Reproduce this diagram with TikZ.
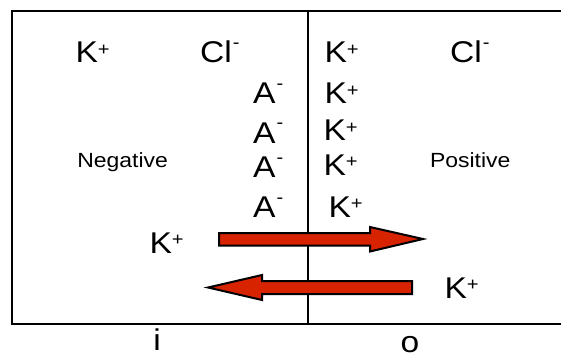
\documentclass[tikz,border=0pt]{standalone}
\usepackage{fontspec}
\setmainfont{Liberation Sans}
\definecolor{pumpred}{RGB}{215,35,0}
% ion labels: stretched Arial-like text with small raised charge signs
\newcommand{\ionplus}[1]{\scalebox{1.12}[1]{\fontsize{30}{30}\selectfont #1\raisebox{7.7pt}{\fontsize{18}{18}\selectfont +}}}
\newcommand{\ionminus}[1]{\scalebox{1.12}[1]{\fontsize{30}{30}\selectfont #1\hspace{1pt}\raisebox{14pt}{\fontsize{18}{18}\selectfont -}}}
\newcommand{\sidelabel}[1]{\scalebox{1.12}[1]{\fontsize{20.5}{20.5}\selectfont #1}}
\newcommand{\compartment}[1]{\scalebox{1.12}[1]{\fontsize{30}{30}\selectfont #1}}
\begin{document}
\begin{tikzpicture}[x=1pt,y=-1pt,
  ion/.style={anchor=base west,inner sep=0pt,outer sep=0pt},
  wall/.style={line width=1.5pt,line cap=rect},
  pumparrow/.style={fill=pumpred,draw=black,line width=2pt,line join=miter}]
\useasboundingbox (0,0) rectangle (561,358);

% cell frame and membrane
\coordinate (tl) at (12,11);
\coordinate (tr) at (561,11);
\coordinate (bl) at (12,324);
\coordinate (br) at (561,324);
\coordinate (mtop) at (308,11);
\coordinate (mbot) at (308,324);
\draw[wall] (tr) -- (tl) -- (bl) -- (br);
\draw[wall] (mtop) -- (mbot);

% top row of ions
\node[ion] (k1) at (75.5,63) {\ionplus{K}};
\node[ion] (cl1) at (200,63) {\ionminus{Cl}};
\node[ion] (k2) at (324.5,63) {\ionplus{K}};
\node[ion] (cl2) at (450,63) {\ionminus{Cl}};

% anion column (inside) and potassium column (outside)
\node[ion] (a1) at (253,104) {\ionminus{A}};
\node[ion] (a2) at (253,143) {\ionminus{A}};
\node[ion] (a3) at (253,177) {\ionminus{A}};
\node[ion] (a4) at (253,217) {\ionminus{A}};
\node[ion] (k3) at (324.5,104) {\ionplus{K}};
\node[ion] (k4) at (323.5,141) {\ionplus{K}};
\node[ion] (k5) at (323.5,175) {\ionplus{K}};
\node[ion] (k6) at (328.5,217) {\ionplus{K}};

% side labels
\node[ion] (neg) at (77.3,167) {\sidelabel{Negative}};
\node[ion] (pos) at (430,167) {\sidelabel{Positive}};

% potassium flux arrows
\node[ion] (k7) at (149.5,253) {\ionplus{K}};
\node[ion] (k8) at (444.5,298) {\ionplus{K}};
\draw[pumparrow] (219,233) -- (370,233) -- (370,227) -- (423,239)
  -- (370,251.5) -- (370,245.5) -- (219,245.5) -- cycle;
\draw[pumparrow] (412,281) -- (262,281) -- (262,275) -- (208,287.5)
  -- (262,300) -- (262,294) -- (412,294) -- cycle;

% compartment labels
\node[anchor=base,inner sep=0pt] (inside) at (157,350) {\compartment{i}};
\node[anchor=base,inner sep=0pt] (outside) at (410,352) {\compartment{o}};
\end{tikzpicture}
\end{document}
